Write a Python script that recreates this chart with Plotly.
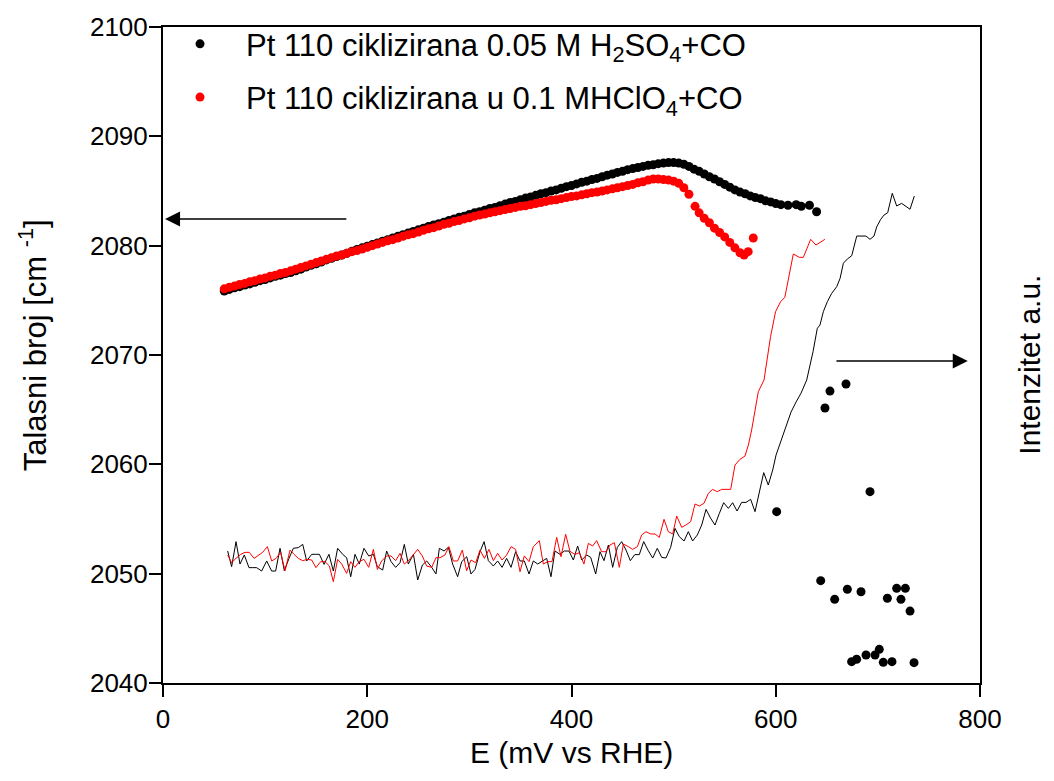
import plotly.graph_objects as go

FONT = "Liberation Sans, Arial, sans-serif"

# ---- Wavenumber (left axis) ----
E_h2so4 = [60, 65, 70, 75, 80, 85, 90, 95, 100, 105, 110, 115, 120, 125, 130, 135, 140, 145, 150, 155,
           160, 165, 170, 175, 180, 185, 190, 195, 200, 205, 210, 215, 220, 225, 230, 235, 240, 245, 250, 255,
           260, 265, 270, 275, 280, 285, 290, 295, 300, 305, 310, 315, 320, 325, 330, 335, 340, 345, 350, 355,
           360, 365, 370, 375, 380, 385, 390, 395, 400, 405, 410, 415, 420, 425, 430, 435, 440, 445, 450, 455,
           460, 465, 470, 475, 480, 485, 490, 495, 500, 505, 510, 515, 520, 525, 530, 535, 540, 545, 550, 555,
           560, 565, 570, 575, 580, 585, 590, 595, 600, 605, 612, 620, 625, 633, 640]
wn_h2so4 = [2075.85, 2076.0, 2076.15, 2076.25, 2076.4, 2076.5, 2076.65, 2076.8, 2076.9, 2077.05,
            2077.2, 2077.3, 2077.45, 2077.55, 2077.7, 2077.85, 2078.05, 2078.2, 2078.35, 2078.5,
            2078.7, 2078.85, 2079.0, 2079.15, 2079.3, 2079.5, 2079.65, 2079.8, 2079.95, 2080.1,
            2080.25, 2080.4, 2080.55, 2080.7, 2080.85, 2081.0, 2081.15, 2081.3, 2081.45, 2081.6,
            2081.75, 2081.9, 2082.0, 2082.15, 2082.3, 2082.45, 2082.6, 2082.7, 2082.85, 2083.0,
            2083.1, 2083.25, 2083.4, 2083.5, 2083.65, 2083.8, 2083.95, 2084.05, 2084.2, 2084.35,
            2084.45, 2084.6, 2084.75, 2084.85, 2085.0, 2085.1, 2085.25, 2085.4, 2085.5, 2085.65,
            2085.8, 2085.9, 2086.05, 2086.15, 2086.3, 2086.45, 2086.55, 2086.7, 2086.8, 2086.95,
            2087.05, 2087.15, 2087.25, 2087.35, 2087.4, 2087.5, 2087.55, 2087.6, 2087.6, 2087.55,
            2087.45, 2087.25, 2087.0, 2086.8, 2086.55, 2086.3, 2086.1, 2085.85, 2085.6, 2085.35,
            2085.1, 2084.9, 2084.75, 2084.55, 2084.4, 2084.3, 2084.1, 2084.0, 2083.85, 2083.75,
            2083.7, 2083.75, 2083.6, 2083.7, 2083.1]

E_hclo4 = [60, 65, 70, 75, 80, 85, 90, 95, 100, 105, 110, 115, 120, 125, 130, 135, 140, 145, 150, 155,
           160, 165, 170, 175, 180, 185, 190, 195, 200, 205, 210, 215, 220, 225, 230, 235, 240, 245, 250, 255,
           260, 265, 270, 275, 280, 285, 290, 295, 300, 305, 310, 315, 320, 325, 330, 335, 340, 345, 350, 355,
           360, 365, 370, 375, 380, 385, 390, 395, 400, 405, 410, 415, 420, 425, 430, 435, 440, 445, 450, 455,
           460, 465, 470, 475, 480, 485, 490, 495, 500, 505, 510, 515, 521, 525, 530, 535, 540, 545, 550, 555,
           560, 565, 569, 573, 578]
wn_hclo4 = [2076.05, 2076.2, 2076.3, 2076.45, 2076.55, 2076.7, 2076.8, 2076.95, 2077.05, 2077.2,
            2077.3, 2077.45, 2077.55, 2077.7, 2077.85, 2078.0, 2078.15, 2078.3, 2078.45, 2078.6,
            2078.75, 2078.9, 2079.05, 2079.15, 2079.3, 2079.45, 2079.55, 2079.7, 2079.85, 2080.0,
            2080.15, 2080.3, 2080.45, 2080.55, 2080.7, 2080.85, 2081.0, 2081.1, 2081.25, 2081.4,
            2081.55, 2081.65, 2081.8, 2081.95, 2082.05, 2082.2, 2082.3, 2082.45, 2082.55, 2082.7,
            2082.8, 2082.9, 2083.0, 2083.1, 2083.2, 2083.3, 2083.4, 2083.5, 2083.6, 2083.65,
            2083.75, 2083.85, 2083.95, 2084.05, 2084.15, 2084.2, 2084.3, 2084.4, 2084.5, 2084.55,
            2084.65, 2084.75, 2084.85, 2084.9, 2085.0, 2085.1, 2085.2, 2085.3, 2085.4, 2085.5,
            2085.6, 2085.75, 2085.85, 2086.0, 2086.1, 2086.1, 2086.05, 2086.0, 2085.9, 2085.7,
            2085.3, 2084.7, 2083.6, 2083.0, 2082.5, 2082.1, 2081.6, 2081.2, 2080.8, 2080.3,
            2079.8, 2079.35, 2079.15, 2079.45, 2080.7]

# ---- Intensity (right axis, a.u.) ----
E_int_black = [63.3, 67.2, 71.5, 75.4, 79.6, 84.2, 88.0, 91.7, 96.6, 101.5, 106.4, 110.3, 114.6, 118.8, 123.4,
               127.6, 132.5, 136.8, 140.7, 145.6, 149.0, 153.1, 157.7, 162.5, 166.8, 171.0, 175.9, 179.8, 183.8,
               188.0, 192.2, 196.8, 201.4, 206.0, 209.9, 215.1, 219.0, 223.3, 227.8, 232.1, 236.3, 240.2, 245.2,
               249.4, 254.0, 258.2, 263.1, 267.3, 270.6, 275.2, 279.4, 283.6, 288.5, 292.5, 297.4, 301.6, 305.5,
               310.4, 314.4, 318.6, 323.5, 327.7, 332.0, 336.5, 340.8, 345.3, 349.6, 353.8, 358.4, 362.6, 366.9,
               371.8, 375.7, 379.9, 383.8, 388.7, 393.0, 397.5, 401.8, 406.0, 410.0, 414.9, 418.8, 423.7, 427.9,
               431.8, 436.1, 440.3, 444.9, 449.1, 453.4, 457.6, 461.9, 466.4, 470.7, 475.2, 479.5, 484.0, 488.3,
               492.5, 497.1, 501.3, 505.6, 510.2, 514.4, 518.6, 523.2, 527.5, 531.7, 536.3, 540.5, 544.8, 549.0,
               553.6, 557.8, 562.1, 566.6, 570.9, 575.4, 579.7, 584.0, 588.2, 592.7, 597.0, 600.3, 605.2, 610.1,
               615.0, 619.9, 624.8, 630.3, 636.5, 640.7, 643.3, 646.6, 650.5, 654.8, 659.7, 663.0, 666.2, 670.1,
               674.4, 679.3, 683.2, 688.4, 692.3, 696.2, 698.9, 702.8, 706.0, 709.6, 714.1, 718.4, 723.3, 728.2,
               731.5, 735.7]
I_black = [12.07, 10.64, 12.93, 10.88, 11.71, 10.55, 10.55, 10.55, 10.24, 11.16, 10.24, 10.24, 12.32, 10.27, 11.40,
           12.32, 12.38, 12.68, 11.16, 11.77, 11.77, 11.77, 10.85, 11.77, 10.24, 12.32, 11.77, 11.46, 9.72,
           11.77, 10.88, 12.32, 11.62, 11.77, 10.64, 10.33, 12.07, 11.10, 10.58, 11.00, 12.68, 10.88, 11.77,
           9.42, 10.79, 11.16, 10.58, 9.97, 12.32, 12.07, 12.41, 10.88, 9.72, 11.10, 11.55, 9.97, 10.39,
           12.01, 12.93, 11.19, 10.70, 11.16, 10.58, 11.40, 10.58, 12.01, 11.16, 11.16, 9.97, 11.16, 10.88,
           11.16, 11.40, 9.72, 12.07, 11.77, 12.07, 12.07, 11.25, 12.53, 11.25, 11.71, 11.49, 9.97, 12.01,
           11.19, 12.62, 10.58, 12.41, 12.93, 12.16, 11.19, 11.74, 11.74, 12.93, 12.10, 11.43, 12.32, 11.49,
           11.43, 12.41, 14.15, 13.38, 12.99, 13.84, 12.99, 13.54, 14.45, 15.88, 15.06, 14.45, 15.52, 16.49,
           15.97, 16.49, 15.73, 16.52, 16.52, 16.80, 15.67, 17.65, 19.24, 18.11, 19.48, 20.85, 22.22, 23.60,
           24.79, 25.70, 26.52, 27.71, 30.30, 32.44, 32.74, 33.96, 34.87, 35.64, 36.25, 37.01, 38.39, 38.78,
           39.08, 40.88, 40.88, 40.88, 40.58, 40.88, 41.73, 42.41, 42.80, 43.01, 44.79, 43.63, 43.87, 43.56,
           43.33, 44.54]

E_int_red = [63.3, 67.2, 71.5, 76.1, 80.3, 84.5, 89.1, 93.3, 97.6, 102.2, 106.4, 110.7, 115.2, 119.5, 124.4,
             128.3, 132.5, 136.8, 141.3, 145.6, 149.8, 154.4, 158.6, 162.9, 166.8, 171.0, 175.0, 179.8, 183.8,
             188.0, 192.2, 196.8, 201.4, 206.0, 209.9, 214.1, 219.0, 223.3, 227.8, 232.1, 236.3, 240.9, 245.1,
             249.4, 253.9, 258.2, 263.1, 267.3, 271.2, 276.1, 280.0, 284.3, 288.5, 293.1, 297.3, 301.6, 306.2,
             310.4, 314.7, 319.2, 323.5, 327.7, 332.0, 336.5, 340.8, 345.3, 349.6, 353.8, 358.4, 362.6, 368.5,
             372.4, 376.7, 380.9, 385.5, 389.7, 394.3, 398.5, 403.4, 407.7, 412.2, 416.5, 420.7, 424.6, 429.5,
             433.8, 437.7, 442.0, 446.8, 450.8, 455.7, 459.9, 464.5, 468.7, 473.0, 477.5, 481.8, 486.0, 490.6,
             494.8, 499.1, 503.0, 507.9, 512.1, 516.7, 520.9, 525.2, 529.7, 534.0, 538.2, 542.8, 547.0, 551.3,
             555.9, 560.1, 565.0, 569.9, 573.2, 576.4, 579.7, 582.9, 588.5, 594.9, 599.8, 604.7, 608.9, 612.9,
             617.2, 623.1, 627.0, 634.2, 639.4, 648.1]
I_red = [11.71, 11.00, 11.40, 11.77, 11.95, 11.95, 11.40, 11.71, 11.95, 12.47, 11.16, 11.40, 11.95, 10.27, 12.16,
         11.77, 11.40, 11.19, 11.31, 11.25, 10.55, 11.10, 11.10, 10.70, 9.27, 11.31, 10.88, 10.03, 11.10,
         10.58, 11.10, 11.31, 10.58, 12.22, 10.39, 11.16, 11.62, 11.62, 11.19, 11.86, 10.88, 11.25, 11.71,
         12.22, 11.62, 10.70, 10.58, 11.46, 11.46, 11.71, 12.47, 11.16, 11.16, 12.16, 10.27, 11.25, 11.00,
         12.16, 11.40, 12.22, 11.19, 11.86, 11.25, 11.71, 12.47, 12.22, 10.18, 11.62, 11.10, 12.47, 13.02,
         10.88, 11.10, 11.10, 13.32, 11.55, 13.60, 12.04, 11.76, 11.92, 10.88, 12.77, 12.53, 13.02, 12.01,
         12.01, 12.62, 12.83, 10.58, 12.71, 12.47, 12.22, 12.47, 13.54, 13.84, 13.63, 13.63, 13.32, 14.97,
         13.84, 13.63, 15.27, 14.24, 14.45, 14.76, 16.37, 16.19, 16.43, 17.35, 17.71, 17.50, 17.71, 17.71,
         17.71, 19.94, 20.46, 20.76, 21.77, 23.14, 24.97, 26.64, 27.71, 31.67, 33.96, 34.87, 35.28, 37.16,
         39.24, 38.93, 38.93, 40.58, 40.06, 40.58]

# scattered black points (lower right)
E_scatter = [600.9, 648.2, 653.1, 668.8, 644.0, 657.7, 670.1, 683.5, 692.3, 709.3, 718.4, 722.6, 726.9, 731.5,
             674.3, 679.2, 688.4, 697.2, 701.4, 705.3, 713.8, 735.4]
I_scatter = [15.67, 25.15, 26.70, 27.35, 9.36, 7.65, 8.57, 8.35, 17.50, 7.75, 8.66, 7.65, 8.66, 6.58,
             1.95, 2.17, 2.56, 2.56, 3.08, 1.89, 1.95, 1.86]

LEGEND_H2SO4 = "Pt 110 ciklizirana 0.05 M H<sub>2</sub>SO<sub>4</sub>+CO"
LEGEND_HCLO4 = "Pt 110 ciklizirana u 0.1 MHClO<sub>4</sub>+CO"

fig = go.Figure()

fig.add_trace(go.Scatter(x=E_int_black, y=I_black, mode="lines", yaxis="y2",
                         line=dict(color="black", width=1), showlegend=False, hoverinfo="skip"))
fig.add_trace(go.Scatter(x=E_int_red, y=I_red, mode="lines", yaxis="y2",
                         line=dict(color="red", width=1), showlegend=False, hoverinfo="skip"))
fig.add_trace(go.Scatter(x=E_scatter, y=I_scatter, mode="markers", yaxis="y2",
                         marker=dict(color="black", size=9), showlegend=False))

fig.add_trace(go.Scatter(x=E_h2so4, y=wn_h2so4, mode="markers", name=LEGEND_H2SO4, legendgroup="a",
                         marker=dict(color="black", size=9)))
fig.add_trace(go.Scatter(x=E_hclo4, y=wn_hclo4, mode="markers", name=LEGEND_HCLO4, legendgroup="b",
                         marker=dict(color="red", size=9)))

axis_common = dict(showline=True, linecolor="black", linewidth=2, mirror=True,
                   ticks="outside", ticklen=12, tickwidth=2, tickcolor="black",
                   showgrid=False, zeroline=False, automargin=False,
                   tickfont=dict(family=FONT, size=26, color="black"))

fig.update_layout(
    width=1038, height=765,
    margin=dict(l=155, r=66, t=19, b=90, autoexpand=False),
    paper_bgcolor="white", plot_bgcolor="white",
    font=dict(family=FONT, color="black"),
    xaxis=dict(range=[0, 800], tickvals=[0, 200, 400, 600, 800], **axis_common),
    yaxis=dict(range=[2040, 2100], tickvals=[2040, 2050, 2060, 2070, 2080, 2090, 2100],
               ticklabelstandoff=-4, **axis_common),
    yaxis2=dict(range=[0, 60], overlaying="y", side="right", showticklabels=False, ticks="",
                showgrid=False, zeroline=False, showline=False),
    legend=dict(x=-0.011, y=1.015, xanchor="left", yanchor="top", bgcolor="rgba(0,0,0,0)",
                font=dict(family=FONT, size=31, color="black"), tracegroupgap=10,
                itemwidth=82, itemsizing="trace"),
    showlegend=True,
)

# axis titles
fig.add_annotation(x=0.5, y=-0.106, xref="paper", yref="paper", text="E (mV vs RHE)",
                   showarrow=False, xanchor="center", yanchor="middle",
                   font=dict(family=FONT, size=30, color="black"))
fig.add_annotation(x=-0.159, y=0.515, xref="paper", yref="paper", text="Talasni broj [cm <sup>-1</sup>]",
                   textangle=-90, showarrow=False, xanchor="center", yanchor="middle",
                   font=dict(family=FONT, size=31, color="black"))
fig.add_annotation(x=1.061, y=0.485, xref="paper", yref="paper", text="Intenzitet a.u.",
                   textangle=-90, showarrow=False, xanchor="center", yanchor="middle",
                   font=dict(family=FONT, size=30, color="black"))

# arrows
fig.add_annotation(x=2, y=2082.44, ax=181, ay=2082.44, xref="x", yref="y", axref="x", ayref="y",
                   text="", showarrow=True, arrowhead=2, arrowsize=2, arrowwidth=1.5, arrowcolor="black")
fig.add_annotation(x=788, y=2069.45, ax=658, ay=2069.45, xref="x", yref="y", axref="x", ayref="y",
                   text="", showarrow=True, arrowhead=2, arrowsize=2, arrowwidth=1.5, arrowcolor="black")

fig.write_html("out.html")
